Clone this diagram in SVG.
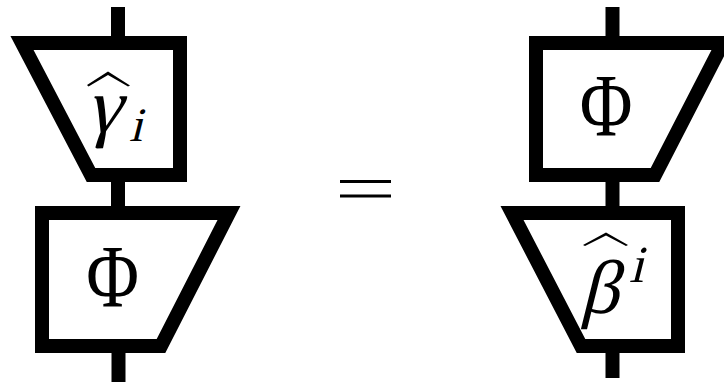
<svg xmlns="http://www.w3.org/2000/svg" width="724" height="382" viewBox="0 0 724 382">
<style>
.box{fill:#fff;stroke:#000;stroke-width:14;stroke-linejoin:miter;stroke-miterlimit:10}
.wire{stroke:#000;stroke-width:14;fill:none}
.m{font-family:"Liberation Serif","Times New Roman",serif;fill:#000}
.g{font-family:"Liberation Serif","Times New Roman",serif;fill:#000}
.hat{fill:#000;stroke:none}
.eq{stroke:#000;stroke-width:3}
</style>
<g id="connectors">
<line class="wire" x1="118" y1="7" x2="118" y2="43"/>
<line class="wire" x1="118" y1="175" x2="118" y2="213"/>
<line class="wire" x1="118.5" y1="346" x2="118.5" y2="382"/>
<line class="wire" x1="612.5" y1="7" x2="612.5" y2="43"/>
<line class="wire" x1="612.5" y1="175" x2="612.5" y2="213"/>
<line class="wire" x1="612.5" y1="346" x2="612.5" y2="378"/>
</g>
<g id="gamma-node">
<polygon class="box" points="22,43 180,43 180,175 91,175"/>
<path class="hat" d="M87,85 L108,71.5 L130,85.5 L128,86.5 L108,75 L88.5,86.5 Z"/>
<text class="g" transform="translate(86,132) skewX(-14)" font-size="78">γ</text>
<text class="g" transform="translate(129,141) skewX(-14)" font-size="48">i</text>
</g>
<g id="phi-left-node">
<polygon class="box" points="42,213 229,213 161,346 42,346"/>
<text class="m" transform="translate(112.5,306) scale(0.82,1)" font-size="88" text-anchor="middle">Φ</text>
</g>
<g id="equals">
<line class="eq" x1="340" y1="181.5" x2="391" y2="181.5"/>
<line class="eq" x1="340" y1="196" x2="391" y2="196"/>
</g>
<g id="phi-right-node">
<polygon class="box" points="536,43 723,43 655,175 536,175"/>
<text class="m" transform="translate(606,135) scale(0.82,1)" font-size="88" text-anchor="middle">Φ</text>
</g>
<g id="beta-node">
<polygon class="box" points="512,213 678,213 678,346 581,346"/>
<path class="hat" d="M583,245 L606,232.5 L628,245 L626,246 L606,235.5 L585,246 Z"/>
<text class="g" transform="translate(580,313) skewX(-14)" font-size="76">β</text>
<text class="g" transform="translate(629,282) skewX(-14)" font-size="52">i</text>
</g>
</svg>
